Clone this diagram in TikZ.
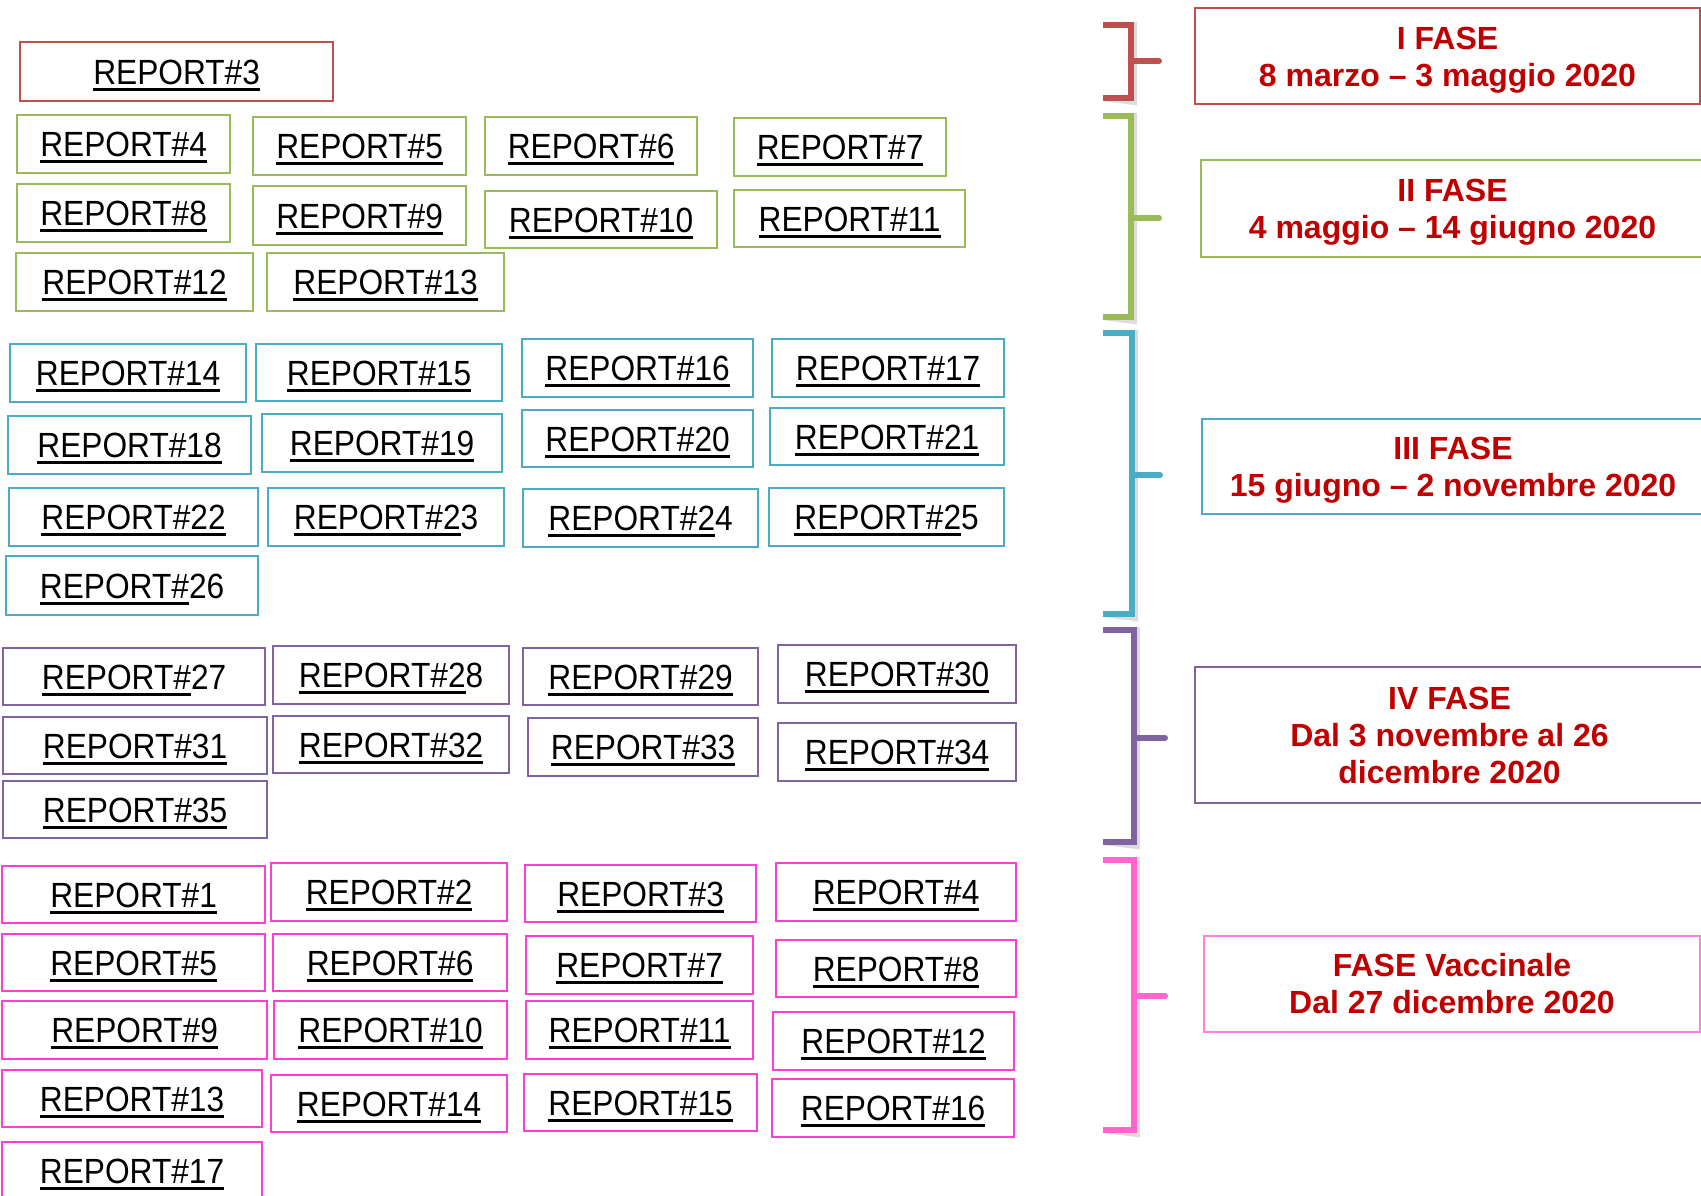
\documentclass[tikz,border=0pt]{standalone}
\usepackage{fontspec}
\setmainfont{Liberation Sans}
\newfontfamily\repfont[FakeStretch=0.905]{Liberation Sans}
\newsavebox\ulxbox
\newcommand\uline[1]{\sbox\ulxbox{#1}\rlap{\vrule height -3.5pt depth 6.5pt width \wd\ulxbox}\usebox\ulxbox}
\definecolor{cred}{HTML}{C0504D}
\definecolor{cgreen}{HTML}{9BBB59}
\definecolor{ccyan}{HTML}{4BACC6}
\definecolor{cpurple}{HTML}{8064A2}
\definecolor{cpink}{HTML}{FF3FD2}
\definecolor{cpinkb}{HTML}{FF66CC}
\definecolor{cpinkl}{HTML}{FF80DD}
\definecolor{phasered}{HTML}{C00000}
\tikzset{
  rep/.style={draw, line width=2.2pt, anchor=north west, inner sep=0pt,
    font=\repfont\fontsize{35}{40}\selectfont, text height=25pt, text depth=0pt},
  phase/.style={draw, line width=2pt, anchor=north west, inner sep=0pt},
  phasetext/.style={align=center, inner sep=0pt, text=phasered,
    font=\bfseries\fontsize{32}{37}\selectfont},
  brk/.style={line width=6pt, line cap=butt, line join=miter},
  brkshadow/.style={line width=6pt, draw=black!30, opacity=.45, shift={(3,4)}},
}
\newcommand\rb[7]{\node[rep, draw=#6, minimum width={(#4-#2)*1pt}, minimum height={(#5-#3)*1pt}] (#1) at (#2,#3) {#7};}
\newcommand\ph[8]{\node[phase, draw=#6, minimum width={(#4-#2)*1pt}, minimum height={(#5-#3)*1pt}] (#1) at (#2,#3) {};
  \node[phasetext] (#1t) at ([yshift=-#8pt]#1.center) {#7};}
\begin{document}
\begin{tikzpicture}[x=1pt,y=-1pt]
\useasboundingbox (0,0) rectangle (1701,1196);
\clip (0,0) rectangle (1701,1196);
% brackets
\foreach \nm/\xv/\yt/\yb/\ym/\xe/\col in {
  b1/1131/25/98/61/1159/cred,
  b2/1131/116/317/218/1159/cgreen,
  b3/1132/333/614/475/1160/ccyan,
  b4/1134/630/842/738/1165/cpurple,
  b5/1134/860/1130/996/1165/cpinkb}{
  \coordinate (\nm t) at (1103,\yt);
  \coordinate (\nm b) at (1103,\yb);
  \coordinate (\nm m) at (\xv,\ym);
  \coordinate (\nm e) at (\xe,\ym);
  \draw[brkshadow] (\nm t) -| (\xv,\yb) -- (\nm b);
  \draw[brkshadow] (\nm m) -- (\nm e);
  \draw[brk, draw=\col] (\nm t) -| (\xv,\yb) -- (\nm b);
  \draw[brk, draw=\col, line cap=round] (\nm m) -- (\nm e);
}
% phase boxes
\ph{ph1}{1194}{7}{1699}{103}{cred}{I FASE\\8 marzo -- 3 maggio 2020}{4}
\ph{ph2}{1200}{159}{1703}{256}{cgreen}{II FASE\\4 maggio -- 14 giugno 2020}{4}
\ph{ph3}{1201}{418}{1703}{513}{ccyan}{III FASE\\15 giugno -- 2 novembre 2020}{4}
\ph{ph4}{1194}{666}{1703}{802}{cpurple}{IV FASE\\Dal 3 novembre al 26\\dicembre 2020}{0}
\ph{ph5}{1203}{935}{1699}{1031}{cpinkl}{FASE Vaccinale\\Dal 27 dicembre 2020}{0}
% phase I
\rb{ra3}{19}{41}{332}{100}{cred}{\uline{REPORT\#3}}
% phase II
\rb{r4}{16}{114}{229}{172}{cgreen}{\uline{REPORT\#4}}
\rb{r5}{252}{116}{465}{174}{cgreen}{\uline{REPORT\#5}}
\rb{r6}{484}{116}{696}{174}{cgreen}{\uline{REPORT\#6}}
\rb{r7}{733}{117}{945}{175}{cgreen}{\uline{REPORT\#7}}
\rb{r8}{16}{183}{229}{241}{cgreen}{\uline{REPORT\#8}}
\rb{r9}{252}{185}{465}{244}{cgreen}{\uline{REPORT\#9}}
\rb{r10}{484}{190}{716}{247}{cgreen}{\uline{REPORT\#10}}
\rb{r11}{733}{189}{964}{246}{cgreen}{\uline{REPORT\#11}}
\rb{r12}{15}{252}{252}{310}{cgreen}{\uline{REPORT\#12}}
\rb{r13}{266}{252}{503}{310}{cgreen}{\uline{REPORT\#13}}
% phase III
\rb{r14}{9}{343}{245}{401}{ccyan}{\uline{REPORT\#14}}
\rb{r15}{255}{343}{501}{400}{ccyan}{\uline{REPORT\#15}}
\rb{r16}{521}{338}{752}{396}{ccyan}{\uline{REPORT\#16}}
\rb{r17}{771}{338}{1003}{396}{ccyan}{\uline{REPORT\#17}}
\rb{r18}{7}{415}{250}{473}{ccyan}{\uline{REPORT\#18}}
\rb{r19}{261}{413}{501}{471}{ccyan}{\uline{REPORT\#19}}
\rb{r20}{521}{409}{752}{466}{ccyan}{\uline{REPORT\#20}}
\rb{r21}{769}{407}{1003}{464}{ccyan}{\uline{REPORT\#21}}
\rb{r22}{8}{487}{257}{545}{ccyan}{\uline{REPORT\#22}}
\rb{r23}{267}{487}{503}{545}{ccyan}{\uline{REPORT\#2}3}
\rb{r24}{522}{488}{757}{546}{ccyan}{\uline{REPORT\#2}4}
\rb{r25}{768}{487}{1003}{545}{ccyan}{\uline{REPORT\#2}5}
\rb{r26}{5}{555}{257}{614}{ccyan}{\uline{REPORT\#}26}
% phase IV
\rb{r27}{2}{647}{264}{704}{cpurple}{\uline{REPORT\#}27}
\rb{r28}{272}{645}{508}{703}{cpurple}{\uline{REPORT\#2}8}
\rb{r29}{522}{647}{757}{704}{cpurple}{\uline{REPORT\#29}}
\rb{r30}{777}{644}{1015}{702}{cpurple}{\uline{REPORT\#30}}
\rb{r31}{2}{716}{266}{773}{cpurple}{\uline{REPORT\#31}}
\rb{r32}{272}{715}{508}{772}{cpurple}{\uline{REPORT\#32}}
\rb{r33}{527}{717}{757}{775}{cpurple}{\uline{REPORT\#33}}
\rb{r34}{777}{722}{1015}{780}{cpurple}{\uline{REPORT\#34}}
\rb{r35}{2}{780}{266}{837}{cpurple}{\uline{REPORT\#35}}
% vaccine phase
\rb{p1}{1}{865}{264}{922}{cpink}{\uline{REPORT\#1}}
\rb{p2}{270}{862}{506}{920}{cpink}{\uline{REPORT\#2}}
\rb{p3}{524}{864}{755}{921}{cpink}{\uline{REPORT\#3}}
\rb{p4}{775}{862}{1015}{920}{cpink}{\uline{REPORT\#4}}
\rb{p5}{1}{933}{264}{990}{cpink}{\uline{REPORT\#5}}
\rb{p6}{272}{933}{506}{990}{cpink}{\uline{REPORT\#6}}
\rb{p7}{525}{935}{752}{993}{cpink}{\uline{REPORT\#7}}
\rb{p8}{775}{939}{1015}{996}{cpink}{\uline{REPORT\#8}}
\rb{p9}{1}{1000}{266}{1058}{cpink}{\uline{REPORT\#9}}
\rb{p10}{273}{1000}{506}{1058}{cpink}{\uline{REPORT\#10}}
\rb{p11}{525}{1000}{752}{1058}{cpink}{\uline{REPORT\#11}}
\rb{p12}{772}{1011}{1013}{1069}{cpink}{\uline{REPORT\#12}}
\rb{p13}{1}{1069}{261}{1126}{cpink}{\uline{REPORT\#13}}
\rb{p14}{270}{1074}{506}{1131}{cpink}{\uline{REPORT\#14}}
\rb{p15}{523}{1073}{756}{1130}{cpink}{\uline{REPORT\#15}}
\rb{p16}{771}{1078}{1013}{1136}{cpink}{\uline{REPORT\#16}}
\rb{p17}{1}{1141}{261}{1199}{cpink}{\uline{REPORT\#17}}
\end{tikzpicture}
\end{document}
